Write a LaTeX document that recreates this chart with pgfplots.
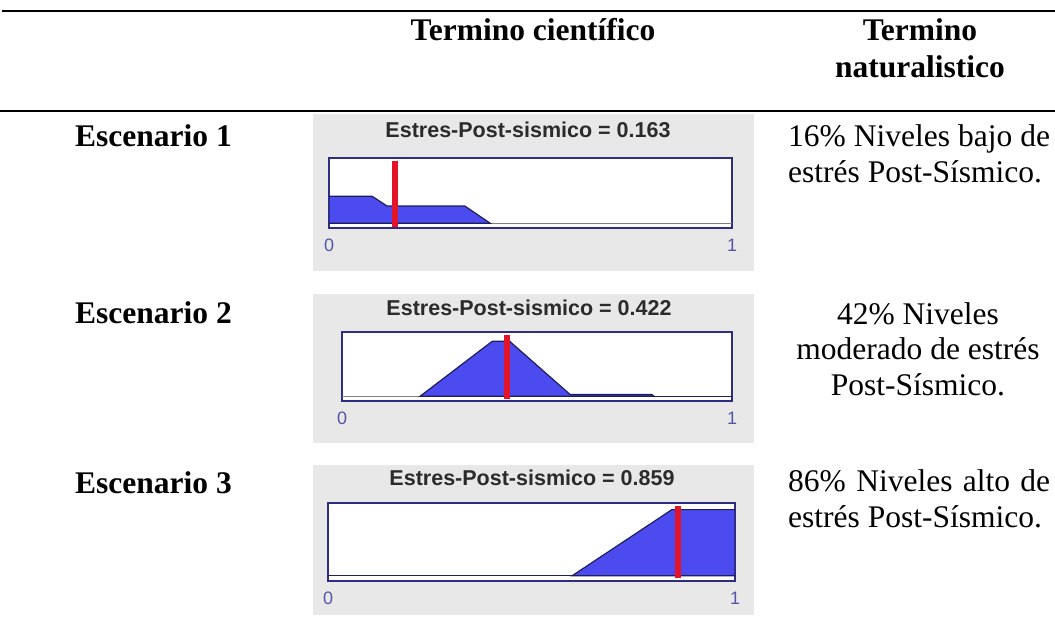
\documentclass[border=0pt]{standalone}
\usepackage{fontspec}
\setmainfont{Liberation Serif}
\newfontfamily\arial{Liberation Sans}
\usepackage{pgfplots}
\pgfplotsset{compat=1.18}

\definecolor{panel}{RGB}{232,232,232}
\definecolor{boxc}{RGB}{45,45,130}
\definecolor{fillb}{RGB}{75,75,240}
\definecolor{edge}{RGB}{30,30,90}
\definecolor{vred}{RGB}{228,20,40}
\definecolor{tickc}{RGB}{85,85,165}
\definecolor{ttl}{RGB}{43,43,43}

\newcommand\tickf{\arial\fontsize{18bp}{18bp}\selectfont}

\pgfplotsset{
  fz/.style={
    scale only axis, anchor=south west,
    xmin=0, xmax=1, ymin=-0.08, ymax=1.1,
    axis line style={draw=boxc, line width=1.5bp},
    axis background/.style={fill=white},
    xtick={0,1}, xticklabels={{\tickf 0},{\tickf 1}}, ytick=\empty,
    major tick length=0pt,
    xticklabel style={text=tickc, yshift=-9bp, inner sep=2bp},
  },
  shape/.style={fill=fillb, draw=edge, line width=1.2bp},
  cut/.style={vred, line width=6bp},
}

\newcommand\tfont{\fontsize{31.5bp}{36bp}\selectfont}
\newcommand\pfont{\arial\bfseries\fontsize{21.5bp}{21.5bp}\selectfont\color{ttl}}

\begin{document}
\begin{tikzpicture}[x=1bp, y=1bp]
\path[use as bounding box] (0,0) rectangle (1055,631);

% rules and headers
\draw[line width=2.5bp] (2,620) -- (1055,620);
\draw[line width=2.5bp] (0,520) -- (1055,520);
\node[anchor=base, inner sep=0] at (533,590) {\tfont\bfseries Termino científico};
\node[anchor=base, inner sep=0] at (920,590) {\tfont\bfseries Termino};
\node[anchor=base, inner sep=0] at (920,553) {\tfont\bfseries naturalistico};

% row labels
\node[anchor=base west, inner sep=0] at (75,484) {\tfont\bfseries Escenario 1};
\node[anchor=base west, inner sep=0] at (75,307) {\tfont\bfseries Escenario 2};
\node[anchor=base west, inner sep=0] at (75,137) {\tfont\bfseries Escenario 3};

% right column
\node[anchor=base west, inner sep=0] at (788,484) {\tfont\makebox[262bp][s]{16\% Niveles bajo de}};
\node[anchor=base west, inner sep=0] at (788,448) {\tfont estrés Post-Sísmico.};
\node[anchor=base, inner sep=0] at (918,306) {\tfont 42\% Niveles};
\node[anchor=base, inner sep=0] at (918,271) {\tfont moderado de estrés};
\node[anchor=base, inner sep=0] at (918,235) {\tfont Post-Sísmico.};
\node[anchor=base west, inner sep=0] at (788,139) {\tfont\makebox[262bp][s]{86\% Niveles alto de}};
\node[anchor=base west, inner sep=0] at (788,103) {\tfont estrés Post-Sísmico.};

% gray panels
\fill[panel] (313,360) rectangle (754,517);
\fill[panel] (313,188) rectangle (754,337);
\fill[panel] (313,16) rectangle (754,166);

% titles
\node[anchor=base, inner sep=0] at (528,493.5) {\pfont Estres-Post-sismico = 0.163};
\node[anchor=base, inner sep=0] at (529,315.5) {\pfont Estres-Post-sismico = 0.422};
\node[anchor=base, inner sep=0] at (532,145.5) {\pfont Estres-Post-sismico = 0.859};

% escenario 1
\begin{axis}[fz, at={(329bp,403bp)}, width=403bp, height=70bp]
\addplot[gray, line width=1bp] coordinates {(0,0) (1,0)};
\addplot[shape] coordinates {(0,0) (0,0.455) (0.107,0.455) (0.144,0.29) (0.337,0.29) (0.40,0)} -- cycle;
\addplot[cut] coordinates {(0.163,-0.06) (0.163,1.05)};
\end{axis}

% escenario 2
\begin{axis}[fz, at={(342bp,230bp)}, width=390bp, height=69bp]
\addplot[gray, line width=0.8bp] coordinates {(0,0) (0.2,0)};
\addplot[edge, line width=1.5bp] coordinates {(0.8,0) (1,0)};
\addplot[shape] coordinates {(0.2,0) (0.385,0.94) (0.43,0.94) (0.585,0.03) (0.795,0.03) (0.8,0)} -- cycle;
\addplot[cut] coordinates {(0.422,-0.04) (0.422,1.05)};
\end{axis}

% escenario 3
\begin{axis}[fz, at={(328bp,50bp)}, width=407bp, height=78bp]
\addplot[edge, line width=1.5bp] coordinates {(0,0) (1,0)};
\addplot[shape] coordinates {(0.6,0) (0.845,1) (1,1) (1,0)} -- cycle;
\addplot[cut] coordinates {(0.859,-0.04) (0.859,1.05)};
\end{axis}
\end{tikzpicture}
\end{document}
